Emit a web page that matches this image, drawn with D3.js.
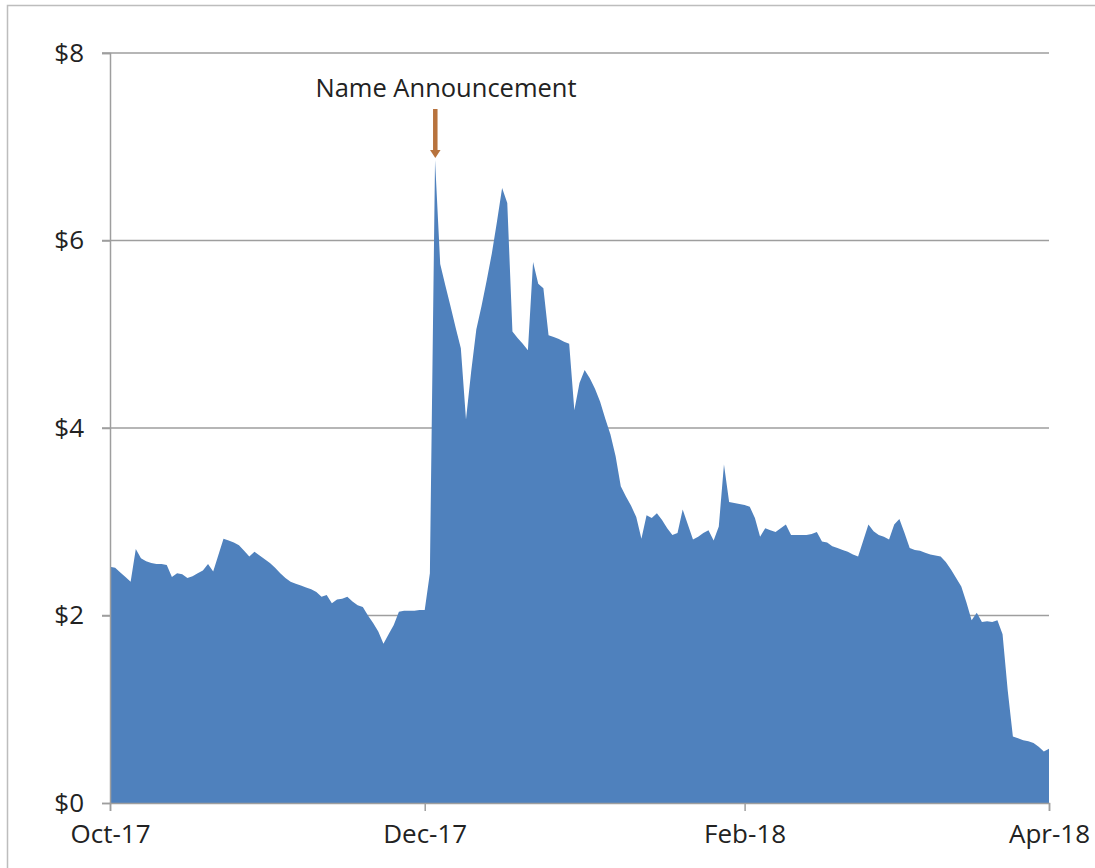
<!DOCTYPE html>
<html>
<head>
<meta charset="utf-8">
<script src="https://cdn.jsdelivr.net/npm/d3@7"></script>
<style>
  html, body { margin: 0; padding: 0; background: #fff; }
  svg { display: block; }
  text { font-family: "Open Sans", "Noto Sans", sans-serif; fill: #222; }
</style>
</head>
<body>
<svg id="chart" width="1095" height="868"></svg>
<script>
const dates = [
  "2017-10-01","2017-10-02","2017-10-03","2017-10-04","2017-10-05","2017-10-06","2017-10-07","2017-10-08","2017-10-09","2017-10-10",
  "2017-10-11","2017-10-12","2017-10-13","2017-10-14","2017-10-15","2017-10-16","2017-10-17","2017-10-18","2017-10-19","2017-10-20",
  "2017-10-21","2017-10-23","2017-10-24","2017-10-25","2017-10-26","2017-10-27","2017-10-28","2017-10-29","2017-10-30","2017-10-31",
  "2017-11-01","2017-11-02","2017-11-03","2017-11-04","2017-11-05","2017-11-06","2017-11-07","2017-11-08","2017-11-09","2017-11-10",
  "2017-11-11","2017-11-12","2017-11-13","2017-11-14","2017-11-15","2017-11-16","2017-11-17","2017-11-18","2017-11-19","2017-11-20",
  "2017-11-21","2017-11-22","2017-11-23","2017-11-24","2017-11-25","2017-11-26","2017-11-27","2017-11-28","2017-11-29","2017-11-30",
  "2017-12-01","2017-12-02","2017-12-03","2017-12-04","2017-12-05","2017-12-06","2017-12-07","2017-12-08","2017-12-09","2017-12-10",
  "2017-12-11","2017-12-12","2017-12-13","2017-12-14","2017-12-15","2017-12-16","2017-12-17","2017-12-18","2017-12-19","2017-12-20",
  "2017-12-21","2017-12-22","2017-12-23","2017-12-24","2017-12-25","2017-12-26","2017-12-27","2017-12-28","2017-12-29","2017-12-30",
  "2017-12-31","2018-01-01","2018-01-02","2018-01-03","2018-01-04","2018-01-05","2018-01-06","2018-01-07","2018-01-08","2018-01-09",
  "2018-01-10","2018-01-11","2018-01-12","2018-01-13","2018-01-14","2018-01-15","2018-01-16","2018-01-17","2018-01-18","2018-01-19",
  "2018-01-20","2018-01-21","2018-01-22","2018-01-23","2018-01-24","2018-01-25","2018-01-26","2018-01-27","2018-01-28","2018-01-29",
  "2018-01-30","2018-01-31","2018-02-01","2018-02-02","2018-02-03","2018-02-04","2018-02-05","2018-02-06","2018-02-07","2018-02-08",
  "2018-02-09","2018-02-10","2018-02-11","2018-02-12","2018-02-13","2018-02-14","2018-02-15","2018-02-16","2018-02-17","2018-02-18",
  "2018-02-19","2018-02-20","2018-02-21","2018-02-22","2018-02-23","2018-02-24","2018-02-25","2018-02-26","2018-02-27","2018-02-28",
  "2018-03-01","2018-03-02","2018-03-03","2018-03-04","2018-03-05","2018-03-06","2018-03-07","2018-03-08","2018-03-09","2018-03-10",
  "2018-03-11","2018-03-12","2018-03-13","2018-03-14","2018-03-15","2018-03-16","2018-03-17","2018-03-18","2018-03-19","2018-03-20",
  "2018-03-21","2018-03-22","2018-03-23","2018-03-24","2018-03-25","2018-03-26","2018-03-27","2018-03-28","2018-03-29","2018-03-30",
  "2018-03-31","2018-04-01"
];
const prices = [
  2.52,2.51,2.46,2.41,2.36,2.71,2.61,2.58,2.56,2.55,
  2.55,2.54,2.41,2.45,2.44,2.40,2.42,2.45,2.48,2.55,
  2.47,2.82,2.80,2.78,2.75,2.69,2.63,2.68,2.64,2.60,
  2.56,2.51,2.45,2.40,2.36,2.34,2.32,2.30,2.28,2.25,
  2.20,2.22,2.13,2.17,2.18,2.20,2.15,2.11,2.09,2.00,
  1.92,1.83,1.70,1.80,1.90,2.04,2.05,2.05,2.05,2.06,
  2.06,2.45,6.86,5.75,5.52,5.30,5.07,4.85,4.09,4.60,
  5.05,5.30,5.57,5.86,6.20,6.56,6.40,5.03,4.96,4.90,
  4.83,5.77,5.54,5.49,4.99,4.97,4.95,4.92,4.90,4.19,
  4.48,4.62,4.53,4.42,4.28,4.10,3.93,3.70,3.38,3.27,
  3.17,3.05,2.82,3.07,3.04,3.09,3.02,2.93,2.86,2.88,
  3.13,2.97,2.81,2.84,2.88,2.91,2.80,2.95,3.61,3.21,
  3.20,3.19,3.18,3.16,3.04,2.84,2.93,2.91,2.89,2.93,
  2.97,2.86,2.86,2.86,2.86,2.87,2.89,2.79,2.78,2.74,
  2.72,2.70,2.68,2.65,2.63,2.80,2.97,2.90,2.86,2.84,
  2.81,2.97,3.03,2.88,2.72,2.70,2.69,2.67,2.65,2.64,
  2.63,2.57,2.49,2.40,2.31,2.14,1.95,2.03,1.93,1.94,
  1.93,1.95,1.80,1.20,0.71,0.69,0.67,0.66,0.64,0.60,
  0.55,0.58
];
const xTickDates = ["2017-10-01","2017-12-01","2018-02-01","2018-04-01"];
const yTicks = [0, 2, 4, 6, 8];
const annotationText = "Name Announcement";
const annotationDate = "2017-12-03";

const parse = d3.timeParse("%Y-%m-%d");
const data = dates.map((d, i) => ({ date: parse(d), value: prices[i] }));

const svg = d3.select("#chart");
const plotLeft = 110, plotRight = 1049, plotTop = 53, plotBottom = 803;

// outer frame
svg.append("rect")
  .attr("x", 7.5).attr("y", 5.5)
  .attr("width", 1095).attr("height", 868)
  .attr("fill", "none").attr("stroke", "#bdbdbd").attr("stroke-width", 1.5);

const x = d3.scaleTime()
  .domain([parse(xTickDates[0]), parse(xTickDates[xTickDates.length - 1])])
  .range([plotLeft, plotRight]);
const y = d3.scaleLinear().domain([0, 8]).range([plotBottom, plotTop]);

// gridlines
svg.append("g")
  .selectAll("line")
  .data(yTicks.filter(v => v > 0))
  .join("line")
  .attr("x1", plotLeft - 8).attr("x2", plotRight)
  .attr("y1", d => y(d)).attr("y2", d => y(d))
  .attr("stroke", "#9e9e9e").attr("stroke-width", 1.5);

// area
const area = d3.area()
  .x(d => x(d.date))
  .y0(y(0))
  .y1(d => y(d.value));
svg.append("path")
  .datum(data)
  .attr("d", area)
  .attr("fill", "#4f81bd");

// y axis
const yAxis = svg.append("g")
  .attr("transform", `translate(${plotLeft},0)`)
  .call(d3.axisLeft(y).tickValues(yTicks).tickFormat(d => "$" + d).tickSize(8).tickPadding(18));
yAxis.select(".domain").attr("stroke", "#9e9e9e").attr("stroke-width", 1.5);
yAxis.selectAll(".tick line").attr("stroke", "#9e9e9e").attr("stroke-width", 1.5);
yAxis.selectAll(".tick text")
  .attr("font-size", 26).attr("font-family", "'Open Sans', sans-serif").attr("fill", "#222");

// x axis
const xAxis = svg.append("g")
  .attr("transform", `translate(0,${plotBottom})`)
  .call(d3.axisBottom(x).tickValues(xTickDates.map(parse)).tickFormat(d3.timeFormat("%b-%y")).tickSize(8).tickPadding(14));
xAxis.select(".domain").attr("stroke", "#9e9e9e").attr("stroke-width", 1.5);
xAxis.selectAll(".tick line").attr("stroke", "#9e9e9e").attr("stroke-width", 1.5);
xAxis.selectAll(".tick text")
  .attr("font-size", 26).attr("font-family", "'Open Sans', sans-serif").attr("fill", "#222");

// annotation
const ax = x(parse(annotationDate));
svg.append("text")
  .attr("x", ax + 11).attr("y", 97)
  .attr("text-anchor", "middle")
  .attr("font-size", 25.5)
  .text(annotationText);
const arrowColor = "#b8733d";
svg.append("rect")
  .attr("x", ax - 2).attr("y", 109)
  .attr("width", 4.5).attr("height", 42)
  .attr("fill", arrowColor);
svg.append("path")
  .attr("d", `M${ax - 5},150 L${ax + 5.5},150 L${ax + 0.25},158 Z`)
  .attr("fill", arrowColor);
</script>
</body>
</html>
